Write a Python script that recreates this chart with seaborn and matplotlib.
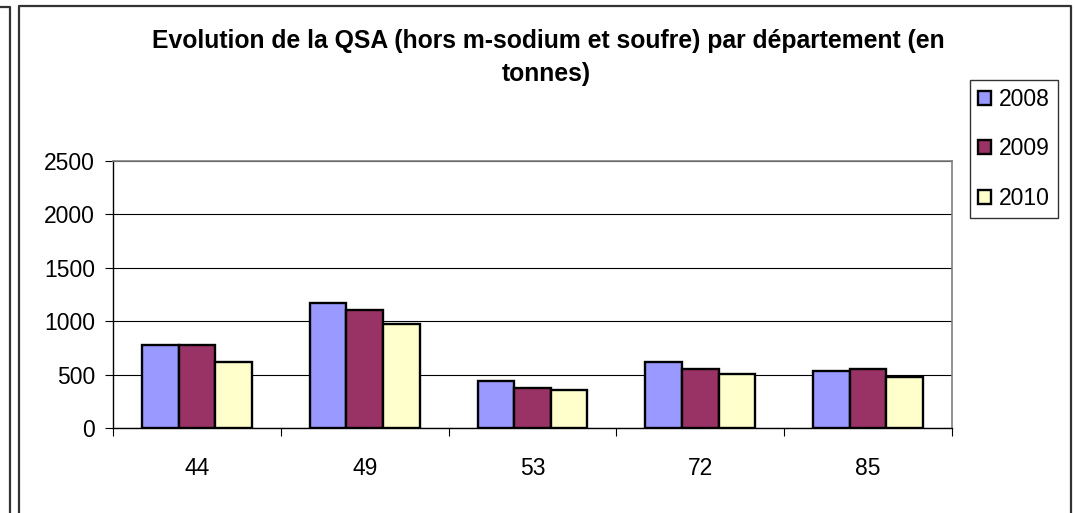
import numpy as np
import pandas as pd
import matplotlib
matplotlib.use("Agg")
import matplotlib.pyplot as plt
from matplotlib.lines import Line2D
import seaborn as sns

departements = ["44", "49", "53", "72", "85"]
annees = ["2008", "2009", "2010"]
qsa_2008 = [773, 1174, 440, 620, 532]
qsa_2009 = [773, 1104, 372, 551, 551]
qsa_2010 = [620, 975, 356, 507, 481]
couleurs = ["#9999FF", "#993366", "#FFFFCC"]
y_ticks = [0, 500, 1000, 1500, 2000, 2500]

titre_1 = "Evolution de la QSA (hors m-sodium et soufre) par département (en"
titre_2 = "tonnes)"

rows = []
for annee, vals in zip(annees, [qsa_2008, qsa_2009, qsa_2010]):
    for d, v in zip(departements, vals):
        rows.append({"departement": d, "annee": annee, "qsa": v})
df = pd.DataFrame(rows)

sns.set_style("white")
plt.rcParams["font.family"] = ["Liberation Sans", "DejaVu Sans"]
plt.rcParams["text.color"] = "black"
plt.rcParams["xtick.color"] = "black"
plt.rcParams["ytick.color"] = "black"

fig = plt.figure(figsize=(10.75, 5.13), dpi=100)
ax = fig.add_axes([113 / 1075, 85 / 513, 839 / 1075, 267 / 513])

sns.barplot(data=df, x="departement", y="qsa", hue="annee", order=departements,
            hue_order=annees, palette=couleurs, width=0.655, edgecolor="black",
            linewidth=1.7, saturation=1, ax=ax)

ax.set_xlim(-0.5, len(departements) - 0.5)
ax.set_ylim(0, 2500)
ax.set_yticks(y_ticks)
ax.set_yticklabels([str(t) for t in y_ticks], fontsize=16.5)
ax.yaxis.grid(True, color="black", linewidth=0.8)
ax.set_axisbelow(True)

# category boundaries get ticks, labels sit at centres
ax.set_xticks(np.arange(-0.5, len(departements), 1))
ax.set_xticklabels([])
ax.set_xticks(range(len(departements)), minor=True)
ax.set_xticklabels(departements, minor=True, fontsize=16.5)
ax.tick_params(axis="x", which="major", length=6, width=0.8, color="black", bottom=True)
ax.tick_params(axis="x", which="minor", length=0, pad=21)
ax.tick_params(axis="y", length=6, width=0.8, color="black", pad=7, left=True)

ax.set_xlabel("")
ax.set_ylabel("")
for side in ["top", "right"]:
    ax.spines[side].set_color("#808080")
    ax.spines[side].set_linewidth(1.2)
for side in ["left", "bottom"]:
    ax.spines[side].set_color("black")
    ax.spines[side].set_linewidth(1.0)

handles, labels = ax.get_legend_handles_labels()
ax.get_legend().remove()
leg = fig.legend(handles, labels, loc="upper left", bbox_to_anchor=(970 / 1075, 1 - 80 / 513),
                 fontsize=16.5, frameon=True, fancybox=False, edgecolor="black",
                 handlelength=0.55, handleheight=0.55, handletextpad=0.35,
                 labelspacing=1.15, borderpad=0.35, borderaxespad=0)
leg.get_frame().set_linewidth(1.0)

fig.text(548 / 1075, 1 - 48 / 513, titre_1, ha="center", va="baseline",
         fontsize=17.8, fontweight="bold")
fig.text(546 / 1075, 1 - 81 / 513, titre_2, ha="center", va="baseline",
         fontsize=17.8, fontweight="bold")

# outer chart frame and the edge of the neighbouring one
frame = dict(color="#333333", linewidth=1.6, transform=fig.transFigure)
fig.add_artist(Line2D([19 / 1075, 19 / 1075, 1071 / 1075, 1071 / 1075],
                      [0, 1 - 6 / 513, 1 - 6 / 513, 0], **frame))
fig.add_artist(Line2D([0, 9.5 / 1075, 9.5 / 1075], [1 - 7 / 513, 1 - 7 / 513, 0], **frame))

fig.savefig("out.png", dpi=100)
